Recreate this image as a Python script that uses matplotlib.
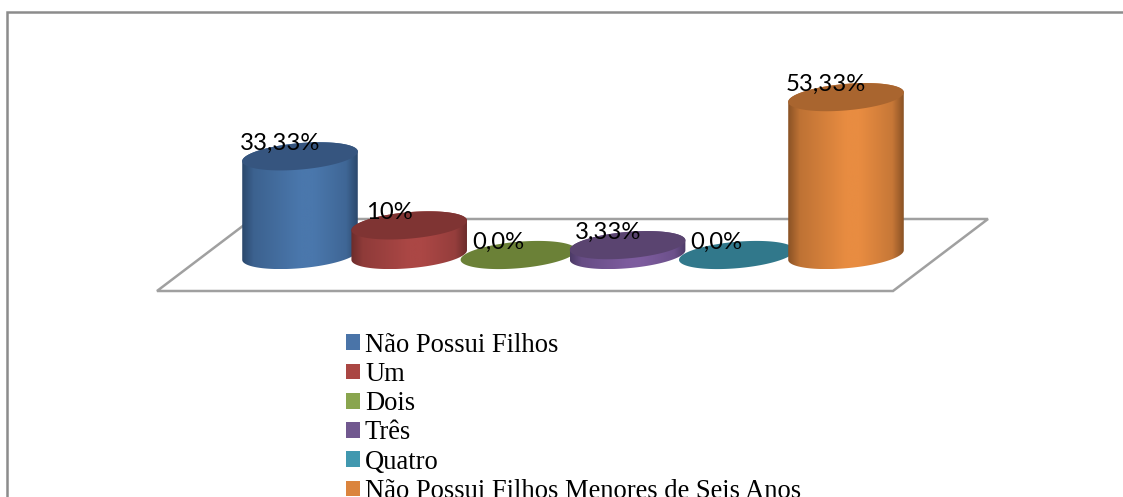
import numpy as np
import matplotlib
matplotlib.use("Agg")
import matplotlib.pyplot as plt
from matplotlib.colors import LinearSegmentedColormap, to_rgb
from matplotlib.patches import Patch, Polygon, Rectangle

categorias = ["Não Possui Filhos", "Um", "Dois", "Três", "Quatro",
              "Não Possui Filhos Menores de Seis Anos"]
valores = [33.33, 10, 0, 3.33, 0, 53.33]
rotulos = ["33,33%", "10%", "0,0%", "3,33%", "0,0%", "53,33%"]
cor_legenda = ["#4a74a8", "#aa4643", "#89a54e", "#71588f", "#4198af", "#db843d"]
cor_centro = ["#4a77ac", "#ab4745", "#89a54e", "#7d5c9e", "#4198af", "#e88c41"]
cor_borda = ["#2b486c", "#6c2c2b", "#566831", "#4c3a66", "#2a6070", "#8a5225"]
cor_topo = ["#36557f", "#7f3433", "#6b8137", "#5a4470", "#31788b", "#a9652f"]

W, H = 1123, 497
PX_X = 109.2   # pixels por categoria
PX_Y = 2.96    # pixels por ponto percentual
X0, Y0 = 300, 255   # posicao da primeira base

fig = plt.figure(figsize=(W / 100, H / 100), dpi=100)
ax = fig.add_axes([0, 0, 1, 1])
ax.set_xlim(-X0 / PX_X, (W - X0) / PX_X)
ax.set_ylim((Y0 - H) / PX_Y, Y0 / PX_Y)
ax.axis("off")


def px(x, y):
    # pixel da imagem -> coordenadas dos eixos
    return (x - X0) / PX_X, (Y0 - y) / PX_Y


def elipse(i, v, t):
    # elipse inclinada em torno do ponto (i, v)
    a, b, ang = 58, 13.2, np.radians(5)
    dx = a * np.cos(t) * np.cos(ang) - b * np.sin(t) * np.sin(ang)
    dy = a * np.cos(t) * np.sin(ang) + b * np.sin(t) * np.cos(ang)
    return np.column_stack([i + dx / PX_X, v + dy / PX_Y])


def mistura(c1, c2, f):
    return tuple((1 - f) * np.array(to_rgb(c1)) + f * np.array(to_rgb(c2)))


# moldura externa, so as bordas de cima e da esquerda aparecem
fig.add_artist(Rectangle((7 / W, -0.05), 1.1, 1.05 - 12 / H, transform=fig.transFigure,
                         fill=False, edgecolor="#8c8c8c", linewidth=1.8))

# piso
piso = [px(157, 291), px(893, 291), px(988, 219), px(252, 219)]
ax.add_patch(Polygon(piso, closed=True, fill=False, edgecolor="#a0a0a0", linewidth=1.8, zorder=1))

t_todo = np.linspace(0, 2 * np.pi, 200)
for i, v in enumerate(valores):
    z = 2 + i * 0.1
    if v > 0:
        # corpo do cilindro: gradiente recortado pelo contorno
        inf = elipse(i, 0, np.linspace(np.pi, 2 * np.pi, 100))
        sup = elipse(i, v, np.linspace(0, np.pi, 100))
        corpo = Polygon(np.vstack([inf, sup]), closed=True, transform=ax.transData,
                        facecolor="none", edgecolor="none")
        ax.add_patch(corpo)
        mapa = LinearSegmentedColormap.from_list(
            "c", [(0, cor_borda[i]), (0.1, mistura(cor_borda[i], cor_centro[i], 0.55)),
                  (0.5, cor_centro[i]), (0.62, cor_centro[i]),
                  (0.9, mistura(cor_borda[i], cor_centro[i], 0.65)), (1, cor_borda[i])])
        grad = np.linspace(0, 1, 256).reshape(1, -1)
        x0, x1 = inf[:, 0].min(), inf[:, 0].max()
        y0, y1 = inf[:, 1].min(), sup[:, 1].max()
        img = ax.imshow(grad, cmap=mapa, extent=[x0, x1, y0, y1], aspect="auto", zorder=z)
        img.set_clip_path(corpo)
    ax.add_patch(Polygon(elipse(i, v, t_todo), closed=True, facecolor=cor_topo[i],
                         edgecolor="none", zorder=z + 0.05))

# imshow mexe nos limites
ax.set_xlim(-X0 / PX_X, (W - X0) / PX_X)
ax.set_ylim((Y0 - H) / PX_Y, Y0 / PX_Y)

for i, v in enumerate(valores):
    ax.text(i - 20 / PX_X, v + 12.5 / PX_Y, rotulos[i], ha="center", va="center",
            fontsize=17.2, family="Lato", color="black", zorder=5)

handles = [Patch(facecolor=c, edgecolor="none", label=n) for c, n in zip(cor_legenda, categorias)]
fig.legend(handles=handles, loc="upper left", bbox_to_anchor=(335 / W, 1 - 322 / H),
           frameon=False, prop={"family": "Liberation Serif", "size": 19.1},
           handlelength=0.53, handleheight=0.53, handletextpad=0.2,
           labelspacing=0.16, borderpad=0.4, borderaxespad=0)

fig.savefig("out.png", dpi=100)
